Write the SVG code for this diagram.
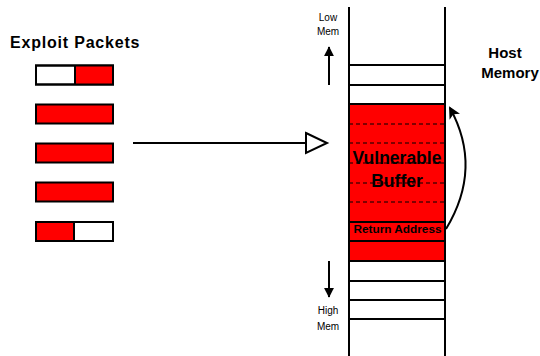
<svg xmlns="http://www.w3.org/2000/svg" width="540" height="356" viewBox="0 0 540 356">
<defs>
<style>
.t{font-family:"Liberation Sans",Arial,sans-serif;fill:#000}
.b{font-weight:bold}
.pk{stroke:#000;stroke-width:2}
.red{fill:#ff0000}
.wh{fill:#fff}
.ln{stroke:#000;stroke-width:2;fill:none}
.dash{stroke:#000;stroke-width:1;stroke-dasharray:4 3;fill:none}
</style>
<marker id="ah" viewBox="0 0 12 12" refX="10" refY="6" markerWidth="12" markerHeight="12" markerUnits="userSpaceOnUse" orient="auto">
<path d="M0,0 L12,6 L0,12 L3,6 Z" fill="#000"/>
</marker>
<marker id="ahs" viewBox="0 0 12 12" refX="11" refY="6" markerWidth="10" markerHeight="10" markerUnits="userSpaceOnUse" orient="auto">
<path d="M0,0 L12,6 L0,12 Z" fill="#000"/>
</marker>
</defs>
<rect width="540" height="356" fill="#fff"/>

<g id="exploit-packets">
<text class="t b" x="10" y="48" font-size="16" letter-spacing="0.8">Exploit Packets</text>
<rect class="pk wh" x="36" y="65.5" width="77" height="19"/>
<rect class="red" x="75" y="65.5" width="38" height="19"/>
<rect class="pk" fill="none" x="36" y="65.5" width="77" height="19"/>
<line class="ln" x1="75" y1="65.5" x2="75" y2="84.5" stroke-width="1.5"/>
<rect class="pk red" x="36" y="104.5" width="77" height="19"/>
<rect class="pk red" x="36" y="143.5" width="77" height="19"/>
<rect class="pk red" x="36" y="182.5" width="77" height="19"/>
<rect class="red" x="36" y="222" width="38" height="19"/>
<rect class="pk" fill="none" x="36" y="222" width="77" height="19"/>
<line class="ln" x1="74" y1="222" x2="74" y2="241" stroke-width="1.5"/>
</g>

<g id="memory">
<rect class="red" x="349" y="104" width="96" height="157"/>
<line class="ln" x1="349" y1="7" x2="349" y2="356"/>
<line class="ln" x1="445" y1="7" x2="445" y2="356"/>
<line class="ln" x1="349" y1="65" x2="445" y2="65"/>
<line class="ln" x1="349" y1="85" x2="445" y2="85"/>
<line class="ln" x1="349" y1="104" x2="445" y2="104"/>
<line class="dash" x1="349" y1="124" x2="445" y2="124"/>
<line class="dash" x1="349" y1="143" x2="445" y2="143"/>
<line class="dash" x1="349" y1="163" x2="445" y2="163"/>
<line class="dash" x1="349" y1="183" x2="445" y2="183"/>
<line class="dash" x1="349" y1="202" x2="445" y2="202"/>
<line class="ln" x1="349" y1="222" x2="445" y2="222"/>
<line class="ln" x1="349" y1="241" x2="445" y2="241"/>
<line class="ln" x1="349" y1="261" x2="445" y2="261"/>
<line class="ln" x1="349" y1="281" x2="445" y2="281"/>
<line class="ln" x1="349" y1="300" x2="445" y2="300"/>
<line class="ln" x1="349" y1="319" x2="445" y2="319"/>
<text class="t b" x="397" y="164" font-size="17.5" text-anchor="middle">Vulnerable</text>
<text class="t b" x="397" y="187" font-size="17.5" text-anchor="middle">Buffer</text>
<text class="t b" x="397.5" y="233" font-size="11.8" text-anchor="middle">Return Address</text>
</g>

<g id="host-memory-label">
<text class="t b" x="505" y="58" font-size="15" text-anchor="middle">Host</text>
<text class="t b" x="510" y="78" font-size="15" text-anchor="middle">Memory</text>
</g>

<g id="low-mem">
<text class="t" x="328" y="21" font-size="10" text-anchor="middle">Low</text>
<text class="t" x="328" y="35" font-size="10" text-anchor="middle">Mem</text>
</g>

<g id="high-mem">
<text class="t" x="328" y="314" font-size="10" text-anchor="middle">High</text>
<text class="t" x="328" y="330" font-size="10" text-anchor="middle">Mem</text>
</g>

<g id="connectors">
<line class="ln" x1="329" y1="85" x2="329" y2="47" marker-end="url(#ahs)"/>
<line class="ln" x1="329" y1="261" x2="329" y2="297" marker-end="url(#ahs)"/>
<line class="ln" x1="133" y1="143" x2="306" y2="143"/>
<polygon points="306,133 327,143 306,153" fill="#fff" stroke="#000" stroke-width="2"/>
<path class="ln" d="M446,229 Q483,168 450,108" marker-end="url(#ah)"/>
</g>
</svg>
